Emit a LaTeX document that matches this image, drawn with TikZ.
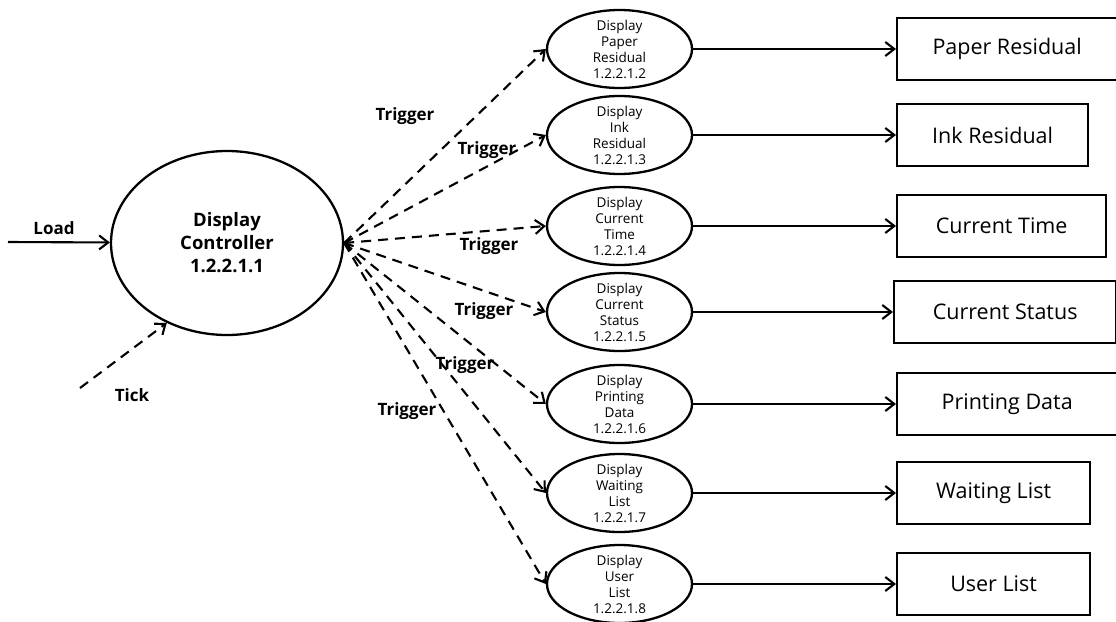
\documentclass[tikz,border=0pt]{standalone}
\usepackage{fontspec}
\setmainfont{Open Sans}
\usetikzlibrary{shapes.geometric,arrows.meta}

\tikzset{
  proc/.style={ellipse, draw=black, line width=2.3pt, fill=white, minimum width=145pt, minimum height=78pt, inner sep=0pt},
  ptext/.style={font=\fontsize{13.5}{16}\selectfont, align=center},
  store/.style={rectangle, draw=black, line width=2.3pt, fill=white, minimum height=62pt, inner sep=0pt, anchor=west, font=\fontsize{21.5}{25}\selectfont},
  flow/.style={line width=2.1pt, -{Straight Barb[length=9pt,width=14pt]}},
  trig/.style={flow, dash pattern=on 10pt off 7pt},
  lbl/.style={font=\bfseries\fontsize{17}{20}\selectfont},
}

\begin{document}
\begin{tikzpicture}[x=1pt, y=-1pt]
				\useasboundingbox (0,0) rectangle (1116,621);
				% controller
				\node (1) [proc, minimum width=232pt, minimum height=184pt, align=center, font=\bfseries\fontsize{18.5}{23}\selectfont] at (227,243) {Display\\Controller\\1.2.2.1.1};
				% display processes
				\node (2) [proc, label={[ptext]center:Display\\Paper\\Residual\\1.2.2.1.2}] at (619.5,49)  {};
				\node (3) [proc, label={[ptext]center:Display\\Ink\\Residual\\1.2.2.1.3}] at (619.5,135) {};
				\node (4) [proc, label={[ptext]center:Display\\Current\\Time\\1.2.2.1.4}] at (619.5,226) {};
				\node (5) [proc, label={[ptext]center:Display\\Current\\Status\\1.2.2.1.5}] at (619.5,312) {};
				\node (6) [proc, label={[ptext]center:Display\\Printing\\Data\\1.2.2.1.6}] at (619.5,404) {};
				\node (7) [proc, label={[ptext]center:Display\\Waiting\\List\\1.2.2.1.7}] at (619.5,493) {};
				\node (8) [proc, label={[ptext]center:Display\\User\\List\\1.2.2.1.8}] at (619.5,584) {};
				% outputs
				\node (d2) [store, minimum width=220pt] at (896,49)  {Paper Residual};
				\node (d3) [store, minimum width=191pt] at (896,135) {Ink Residual};
				\node (d4) [store, minimum width=209pt] at (896,226) {Current Time};
				\node (d5) [store, minimum width=222pt] at (893,312) {Current Status};
				\node (d6) [store, minimum width=220pt] at (896,404) {Printing Data};
				\node (d7) [store, minimum width=193pt] at (896,493) {Waiting List};
				\node (d8) [store, minimum width=193pt] at (896,584) {User List};
				% inputs
				\coordinate (load) at (8,242);
				\coordinate (tick) at (80,388);
				\draw [flow] (load) to (1);
				\draw [trig] (tick) to (1.233);
				\node (lload) [lbl] at (54,228) {Load};
				\node (ltick) [lbl] at (132,395) {Tick};
				% triggers
				\draw [trig] (1.east) to (2.west);
				\draw [trig] (1.east) to (3.west);
				\draw [trig] (1.east) to (4.west);
				\draw [trig] (1.east) to (5.west);
				\draw [trig] (1.east) to (6.west);
				\draw [trig] (1.east) to (7.west);
				\draw [trig] (1.east) to (8.west);
				\node (t2) [lbl] at (405,116) {Trigger};
				\node (t3) [lbl] at (487,150) {Trigger};
				\node (t4) [lbl] at (489,246) {Trigger};
				\node (t5) [lbl] at (484,311) {Trigger};
				\node (t6) [lbl] at (465,365) {Trigger};
				\node (t7) [lbl] at (407,411) {Trigger};
				% data out
				\draw [flow] (2) to (d2);
				\draw [flow] (3) to (d3);
				\draw [flow] (4) to (d4);
				\draw [flow] (5) to (d5);
				\draw [flow] (6) to (d6);
				\draw [flow] (7) to (d7);
				\draw [flow] (8) to (d8);
			\end{tikzpicture}
\end{document}
